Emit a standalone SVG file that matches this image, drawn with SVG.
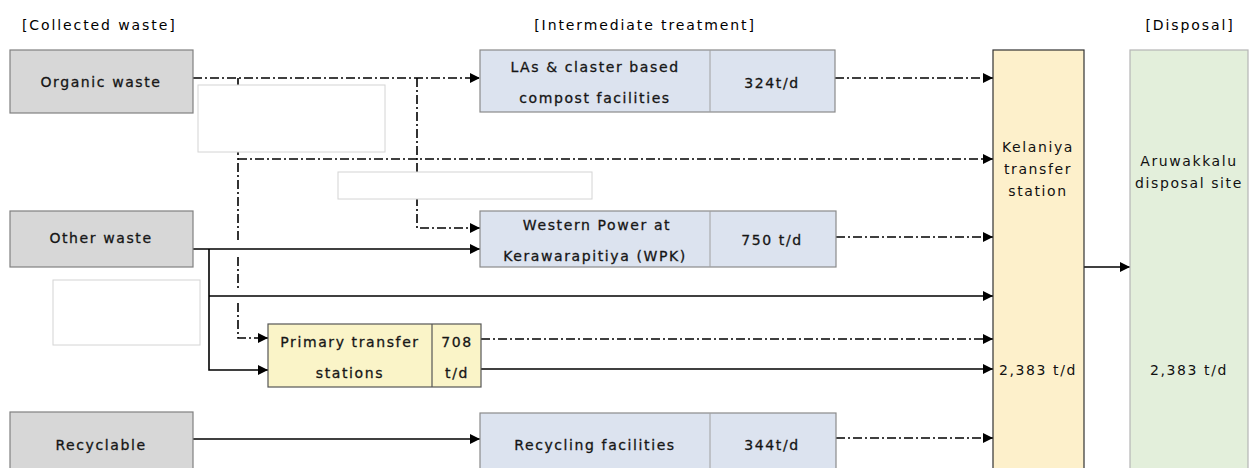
<svg xmlns="http://www.w3.org/2000/svg" width="1251" height="468" viewBox="0 0 1251 468">
<defs>
<style>
text{font-family:"DejaVu Sans","Liberation Sans",sans-serif;font-size:14px;fill:#111;letter-spacing:1.6px}
.h{letter-spacing:1.9px;fill:#000}
.n{stroke:#222;stroke-width:0.3px}
.c{text-anchor:middle}
.grey{fill:#d7d7d7;stroke:#808080;stroke-width:1.2}
.blue{fill:#dce3ef;stroke:#8a8a8a;stroke-width:1.2}
.div{stroke:#a0a0a0;stroke-width:1}
.ylw{fill:#faf4c8;stroke:#555;stroke-width:1.2}
.kel{fill:#fdf0cb;stroke:#333;stroke-width:1.2}
.aru{fill:#e3efdb;stroke:#b5b5b5;stroke-width:1.2}
.ghost{fill:#fff;stroke:#d4d4d4;stroke-width:1}
.s{fill:none;stroke:#000;stroke-width:1.6}
.d{fill:none;stroke:#000;stroke-width:1.6;stroke-dasharray:9 3 2 3}
</style>
<marker id="ah" viewBox="0 0 10 10" refX="10" refY="5" markerWidth="10" markerHeight="10" markerUnits="userSpaceOnUse" orient="auto">
<path d="M0,0 L10,5 L0,10 Z" fill="#000"/>
</marker>
</defs>
<rect width="1251" height="468" fill="#fff"/>

<g id="headers">
<text x="22" y="30" class="h">[Collected waste]</text>
<text x="645" y="30" class="h c">[Intermediate treatment]</text>
<text x="1190" y="30" class="h c">[Disposal]</text>
</g>

<g id="connectors">
<path class="d" d="M193,78 H480" marker-end="url(#ah)"/>
<path class="d" d="M417,78 V228 H480" marker-end="url(#ah)"/>
<path class="d" d="M238,78 V241 M238,257 V288 M238,303 V338 H268" marker-end="url(#ah)"/>
<path class="d" d="M238,159 H993" marker-end="url(#ah)"/>
<path class="s" d="M193,249 H480" marker-end="url(#ah)"/>
<path class="s" d="M209,249 V370 H268" marker-end="url(#ah)"/>
<path class="s" d="M209,296 H993" marker-end="url(#ah)"/>
<path class="d" d="M481,339 H993" marker-end="url(#ah)"/>
<path class="s" d="M481,369 H993" marker-end="url(#ah)"/>
<path class="d" d="M835,78 H993" marker-end="url(#ah)"/>
<path class="d" d="M836,237 H993" marker-end="url(#ah)"/>
<path class="s" d="M193,439 H480" marker-end="url(#ah)"/>
<path class="d" d="M836,438 H993" marker-end="url(#ah)"/>
<path class="s" d="M1084,267 H1130" marker-end="url(#ah)"/>
</g>

<g id="blank-boxes">
<rect class="ghost" x="198" y="85" width="187" height="67"/>
<rect class="ghost" x="338" y="172" width="254" height="27"/>
<rect class="ghost" x="53" y="280" width="147" height="65"/>
</g>

<g id="organic-waste">
<rect class="grey" x="10" y="50" width="183" height="63"/>
<text x="101" y="87" class="c n">Organic waste</text>
</g>
<g id="other-waste">
<rect class="grey" x="10" y="211" width="183" height="56"/>
<text x="101" y="243" class="c n">Other waste</text>
</g>
<g id="recyclable">
<rect class="grey" x="10" y="412" width="183" height="60"/>
<text x="101" y="450" class="c n">Recyclable</text>
</g>

<g id="compost">
<rect class="blue" x="480" y="50" width="355" height="62"/>
<line class="div" x1="710" y1="50" x2="710" y2="112"/>
<text x="595" y="72" class="c n">LAs &amp; claster based</text>
<text x="595" y="103" class="c n">compost facilities</text>
<text x="772" y="88" class="c n">324t/d</text>
</g>
<g id="wpk">
<rect class="blue" x="480" y="211" width="356" height="56"/>
<line class="div" x1="710" y1="211" x2="710" y2="267"/>
<text x="597" y="230" class="c n">Western Power at</text>
<text x="595" y="261" class="c n">Kerawarapitiya (WPK)</text>
<text x="772" y="245" class="c n">750 t/d</text>
</g>
<g id="primary-transfer">
<rect class="ylw" x="268" y="324" width="213" height="63"/>
<line stroke="#555" stroke-width="1.2" x1="432" y1="324" x2="432" y2="387"/>
<text x="350" y="347" class="c n">Primary transfer</text>
<text x="350" y="378" class="c n">stations</text>
<text x="457" y="347" class="c n">708</text>
<text x="457" y="378" class="c n">t/d</text>
</g>
<g id="recycling">
<rect class="blue" x="480" y="413" width="356" height="60"/>
<line class="div" x1="710" y1="413" x2="710" y2="473"/>
<text x="595" y="450" class="c n">Recycling facilities</text>
<text x="772" y="450" class="c n">344t/d</text>
</g>
<g id="kelaniya">
<rect class="kel" x="993" y="50" width="91" height="425"/>
<text x="1038" y="152" class="c">Kelaniya</text>
<text x="1038" y="174" class="c">transfer</text>
<text x="1038" y="196" class="c">station</text>
<text x="1038" y="375" class="c">2,383 t/d</text>
</g>
<g id="aruwakkalu">
<rect class="aru" x="1130" y="50" width="118" height="425"/>
<text x="1189" y="166" class="c">Aruwakkalu</text>
<text x="1189" y="188" class="c">disposal site</text>
<text x="1189" y="375" class="c">2,383 t/d</text>
</g>
</svg>
